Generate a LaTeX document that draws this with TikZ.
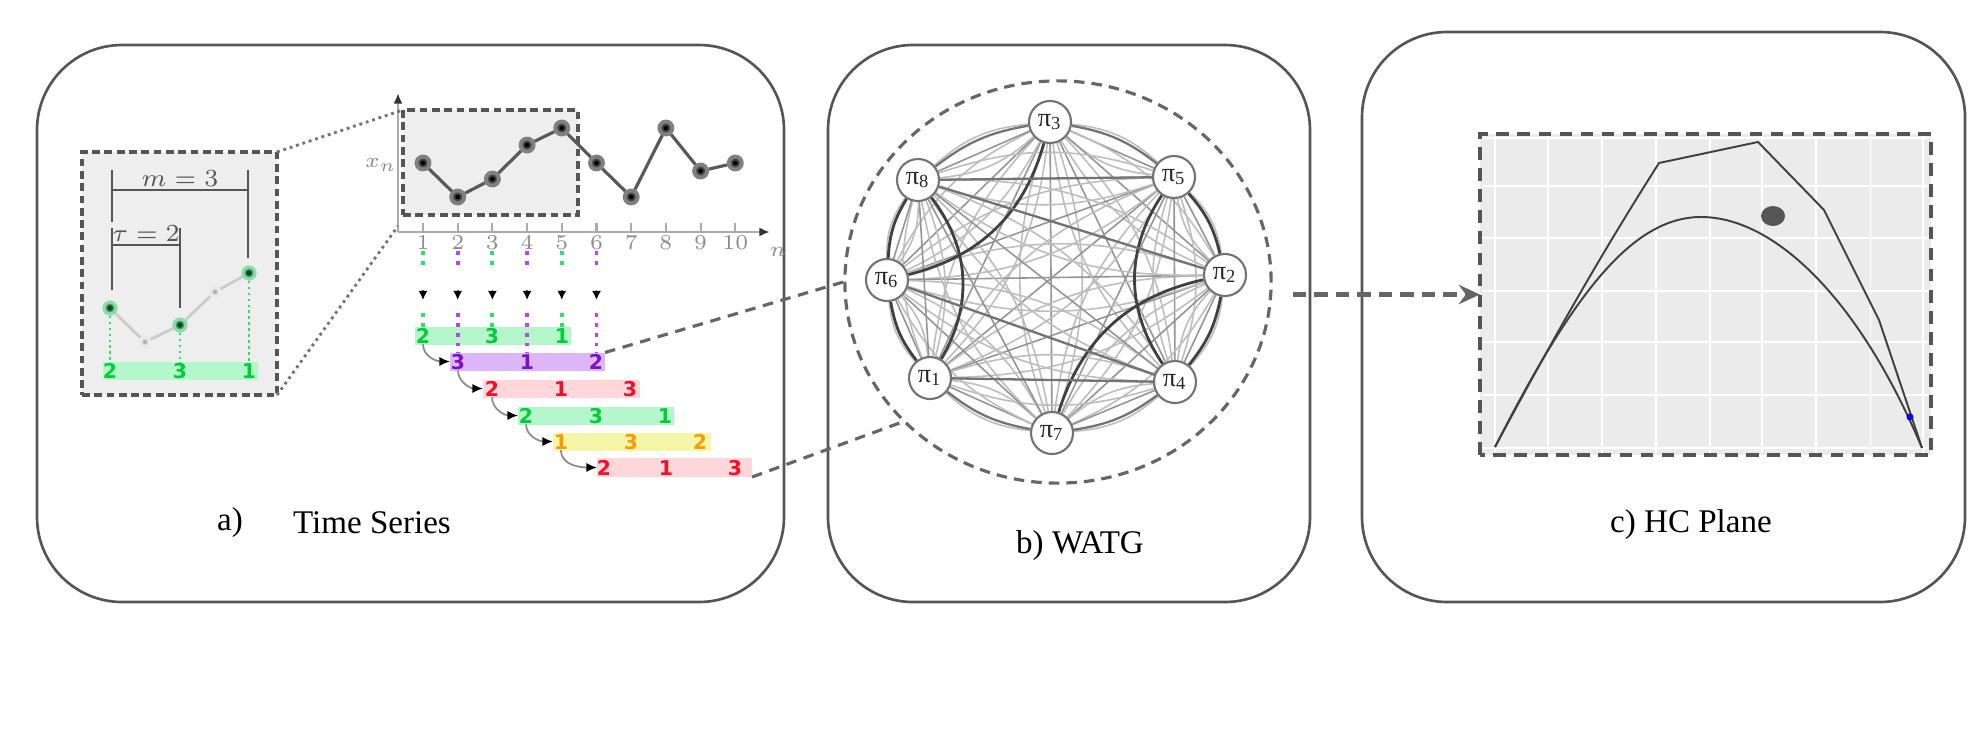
\documentclass[tikz,border=0pt]{standalone}
\usepackage{fontspec}
\setmainfont{Liberation Serif}
\newfontfamily\digfont{DejaVu Sans}
\usetikzlibrary{arrows.meta,shapes.geometric}
\pgfdeclarelayer{bg}
\pgfsetlayers{bg,main}
\definecolor{frame}{HTML}{555555}
\definecolor{boxgray}{HTML}{EEEEEE}
\definecolor{hcgray}{HTML}{EBEBEB}
\definecolor{gfill}{HTML}{B4F7CB}
\definecolor{gtext}{HTML}{00CC3A}
\definecolor{pfill}{HTML}{DDB6F7}
\definecolor{ptext}{HTML}{7B10C8}
\definecolor{rfill}{HTML}{FFD6DA}
\definecolor{rtext}{HTML}{F01028}
\definecolor{yfill}{HTML}{F6F6A8}
\definecolor{ytext}{HTML}{FF9A00}
\definecolor{gdot}{HTML}{33DD66}
\definecolor{pdot}{HTML}{BB44EE}
\definecolor{gpt}{HTML}{22B455}
\definecolor{axisgray}{HTML}{AAAAAA}
\definecolor{dashgray}{HTML}{666666}
\begin{document}
\begin{tikzpicture}[x=0.01cm,y=-0.01cm,
  panel/.style={draw=frame,line width=0.75pt,rounded corners=0.85cm},
  zoombox/.style={draw=frame,fill=boxgray,line width=1.1pt,dash pattern=on 2.2pt off 1.3pt,inner sep=0pt,outer sep=0pt},
  caption/.style={font=\fontsize{9.4}{11}\selectfont,text=black,inner sep=0pt},
  bracket/.style={draw=frame,line width=0.75pt},
  brlabel/.style={font=\fontsize{7}{8}\selectfont,text=frame,inner sep=0pt},
  ipt/.style={circle,fill=gpt,draw=gpt!50,line width=0.9pt,minimum size=0.12cm,inner sep=0pt},
  fpt/.style={circle,fill=black!14,draw=black!8,line width=0.8pt,minimum size=0.1cm,inner sep=0pt},
  tspt/.style={circle,fill=black!72,draw=black!50,line width=1.1pt,minimum size=0.13cm,inner sep=0pt},
  barbox/.style={minimum width=1.56cm,minimum height=0.18cm,inner sep=0pt,outer sep=0pt},
  numlab/.style={font=\digfont\bfseries\fontsize{5.8}{6}\selectfont,inner sep=0pt},
  ticklab/.style={font=\fontsize{6}{7}\selectfont,text=black!45,inner sep=0pt},
  gcol/.style={draw=gdot,line width=1.1pt,dash pattern=on 1.1pt off 1.7pt},
  pcol/.style={draw=pdot,line width=1.1pt,dash pattern=on 1.1pt off 1.7pt},
  colarrow/.style={draw=black!60,line width=0.5pt,-{Latex[length=2.6pt,width=2.6pt,black]}},
  bararrow/.style={draw=black!45,line width=0.5pt,-{Latex[length=3pt,width=2.6pt,black]}},
  linkdash/.style={draw=dashgray,line width=0.9pt,dash pattern=on 3pt off 2.2pt},
  zoomlink/.style={draw=black!55,line width=0.8pt,dash pattern=on 0.8pt off 1.1pt},
  pinode/.style={circle,draw=black!55,fill=white,line width=0.6pt,minimum size=0.42cm,inner sep=0pt,font=\fontsize{7.5}{8}\selectfont,text=black!85},
  e1/.style={draw=black!42,line width=0.45pt},
  e2/.style={draw=black!26,line width=0.45pt},
  edark/.style={draw=black!75,line width=0.8pt},
  emid/.style={draw=black!55,line width=0.65pt},
  hcborder/.style={draw=frame,line width=1.3pt,dash pattern=on 3.6pt off 2.4pt},
  bcarrow/.style={draw=dashgray,line width=1.3pt,dash pattern=on 3.8pt off 2.3pt,-{Stealth[length=6pt,width=5.5pt,inset=2pt]}},
]
\useasboundingbox (0,0) rectangle (1988,730);
\begin{pgfonlayer}{bg}
\fill[white] (0,0) rectangle (1988,730);
\end{pgfonlayer}

% ---------- panels
\draw[panel] (37,45) rectangle (784,602);
\draw[panel] (828,45) rectangle (1310,602);
\draw[panel] (1362,32) rectangle (1965,602);

% ---------- panel a : inset
\node[zoombox,minimum width=1.95cm,minimum height=2.43cm] (inset) at (179.5,273.5) {};
\draw[bracket] (112,170) -- (112,222);
\draw[bracket] (248,170) -- (248,258);
\draw[bracket] (112,190) -- (248,190);
\node[brlabel] (mlab) at (180,179) {$m=3$};
\draw[bracket] (112,228) -- (112,290);
\draw[bracket] (180,228) -- (180,308);
\draw[bracket] (112,245) -- (180,245);
\node[brlabel] (taulab) at (146,234) {$\tau=2$};

\node[barbox,fill=gfill,minimum width=1.55cm] (ibar) at (180.5,371) {};
\node[numlab,text=gtext] (in1) at (110,371) {2};
\node[numlab,text=gtext] (in2) at (180,371) {3};
\node[numlab,text=gtext] (in3) at (249,371) {1};

\node[ipt] (ip1) at (110,308) {};
\node[fpt] (ip2) at (145,342) {};
\node[ipt] (ip3) at (180,325) {};
\node[fpt] (ip4) at (215,292) {};
\node[ipt] (ip5) at (249,273) {};
\draw[black!20,line width=0.8pt] (ip1) -- (ip2) -- (ip3) -- (ip4) -- (ip5);
\foreach \p in {ip1,ip3,ip5} \fill[black!80] (\p) circle (0.8pt);
\foreach \p in {ip2,ip4} \fill[black!30] (\p) circle (0.6pt);
\draw[gcol,line width=0.7pt,dash pattern=on 0.7pt off 1pt] (ip1) -- (in1);
\draw[gcol,line width=0.7pt,dash pattern=on 0.7pt off 1pt] (ip3) -- (in2);
\draw[gcol,line width=0.7pt,dash pattern=on 0.7pt off 1pt] (ip5) -- (in3);

% ---------- panel a : time series
\coordinate (o) at (398,232);
\coordinate (xend) at (770,232);
\coordinate (yend) at (398,93);
\coordinate (hlcorner) at (398,226);
\draw[draw=axisgray,line width=0.6pt,-{Latex[length=3pt,width=2.5pt,black!80]}] (o) -- (xend);
\draw[draw=axisgray,line width=0.6pt,-{Latex[length=3pt,width=2.5pt,black!80]}] (o) -- (yend);
\node[ticklab,font=\fontsize{6.5}{7}\selectfont] (nlab) at (778,252) {$n$};
\node[ticklab,font=\fontsize{6.5}{7}\selectfont] (xlab) at (381,165) {$x_n$};
\foreach \i in {1,...,10} {
  \pgfmathsetmacro{\xx}{388.3+34.7*\i}
  \draw[axisgray,line width=0.6pt] (\xx,223) -- (\xx,232);
  \node[ticklab] (t\i) at (\xx,243) {$\i$};
}
\node[zoombox,minimum width=1.75cm,minimum height=1.05cm] (hl) at (490.5,162.5) {};
\foreach \i/\v in {1/163,2/197,3/179,4/145,5/128,6/163,7/197,8/128,9/171,10/163} {
  \pgfmathsetmacro{\xx}{388.3+34.7*\i}
  \node[tspt] (x\i) at (\xx,\v) {};
}
\draw[black!65,line width=0.9pt] (x1) -- (x2) -- (x3) -- (x4) -- (x5) -- (x6) -- (x7) -- (x8) -- (x9) -- (x10);
\foreach \i in {1,...,10} \fill[black] (x\i) circle (0.7pt);

\draw[zoomlink] (inset.north east) -- (hl.north west);
\draw[zoomlink] (inset.south east) -- (hlcorner);

% bars
\node[barbox,fill=gfill] (bar1) at (493,336) {};
\node[barbox,fill=pfill,minimum width=1.55cm] (bar2) at (527.5,361.5) {};
\node[barbox,fill=rfill,minimum width=1.57cm] (bar3) at (561.5,388.5) {};
\node[barbox,fill=gfill] (bar4) at (596,415.5) {};
\node[barbox,fill=yfill,minimum width=1.58cm] (bar5) at (632,441.5) {};
\node[barbox,fill=rfill,minimum width=1.55cm,minimum height=0.19cm] (bar6) at (674.5,467.5) {};

% column lines
\foreach \i in {1,...,6} {
  \pgfmathsetmacro{\xx}{388.3+34.7*\i}
  \coordinate (ca\i) at (\xx,251);
  \coordinate (cm\i) at (\xx,267);
  \coordinate (cd\i) at (\xx,290);
  \coordinate (cb\i) at (\xx,300);
  \coordinate (cc\i) at (\xx,313);
}
\foreach \i in {1,3,5} {
  \draw[gcol] (ca\i) -- (cm\i);
  \draw[colarrow] (cd\i) -- (cb\i);
  \draw[gcol] (cc\i) -- (cc\i |- bar1.north);
}
\foreach \i in {2,4,6} {
  \draw[pcol] (ca\i) -- (cm\i);
  \draw[colarrow] (cd\i) -- (cb\i);
  \draw[pcol] (cc\i) -- (cc\i |- bar2.north);
}

% bar numbers
\node[numlab,text=gtext] (b1a) at (423,336) {2};
\node[numlab,text=gtext] (b1b) at (492,336) {3};
\node[numlab,text=gtext] (b1c) at (562,336) {1};
\node[numlab,text=ptext] (b2a) at (458,362) {3};
\node[numlab,text=ptext] (b2b) at (527,362) {1};
\node[numlab,text=ptext] (b2c) at (596,362) {2};
\node[numlab,text=rtext] (b3a) at (492,389) {2};
\node[numlab,text=rtext] (b3b) at (561,389) {1};
\node[numlab,text=rtext] (b3c) at (630,389) {3};
\node[numlab,text=gtext] (b4a) at (526,416) {2};
\node[numlab,text=gtext] (b4b) at (596,416) {3};
\node[numlab,text=gtext] (b4c) at (665,416) {1};
\node[numlab,text=ytext] (b5a) at (561,442) {1};
\node[numlab,text=ytext] (b5b) at (631,442) {3};
\node[numlab,text=ytext] (b5c) at (700,442) {2};
\node[numlab,text=rtext] (b6a) at (604,468) {2};
\node[numlab,text=rtext] (b6b) at (666,468) {1};
\node[numlab,text=rtext] (b6c) at (735,468) {3};

\draw[bararrow] (b1a.south) to[out=-90,in=180] (bar2.west);
\draw[bararrow] (b2a.south) to[out=-90,in=180] (bar3.west);
\draw[bararrow] (b3a.south) to[out=-90,in=180] (bar4.west);
\draw[bararrow] (b4a.south) to[out=-90,in=180] (bar5.west);
\draw[bararrow] (b5a.south) to[out=-90,in=180] (bar6.west);

\node[caption] (capa1) at (230,523) {a)};
\node[caption] (capa2) at (372,523) {Time Series};

% ---------- panel b : WATG
\node[ellipse,draw=dashgray,line width=0.9pt,dash pattern=on 3pt off 2pt,minimum width=4.26cm,minimum height=4.02cm,inner sep=0pt] (watg) at (1058,282) {};
\node[pinode] (p3) at (1050,122) {π\textsubscript{3}};
\node[pinode] (p5) at (1174,177) {π\textsubscript{5}};
\node[pinode] (p2) at (1225,275) {π\textsubscript{2}};
\node[pinode] (p4) at (1175,382) {π\textsubscript{4}};
\node[pinode] (p7) at (1052,433) {π\textsubscript{7}};
\node[pinode] (p1) at (930,378) {π\textsubscript{1}};
\node[pinode] (p6) at (887,280) {π\textsubscript{6}};
\node[pinode] (p8) at (918,180) {π\textsubscript{8}};
\begin{pgfonlayer}{bg}
\foreach \a/\b in {3/5,3/2,3/4,3/7,3/1,3/6,3/8,5/2,5/4,5/7,5/1,5/6,5/8,2/4,2/7,2/1,2/6,2/8,4/7,4/1,4/6,4/8,7/1,7/6,7/8,1/6,1/8,6/8} {
  \draw[e1] (p\a) -- (p\b);
  \draw[e2] (p\a) to[bend left=18] (p\b);
  \draw[e2] (p\a) to[bend right=18] (p\b);
}
\draw[edark] (p3) to[bend left=30] (p6);
\draw[edark] (p2) to[bend right=30] (p7);
\draw[edark] (p8) to[bend left=34] (p1);
\draw[edark] (p5) to[bend right=34] (p4);
\draw[edark] (p5) to[bend left=14] (p2);
\draw[edark] (p2) to[bend left=14] (p4);
\draw[edark] (p1) to[bend left=14] (p6);
\draw[edark] (p6) to[bend left=14] (p8);
\draw[emid] (p3) to[bend left=14] (p5);
\draw[emid] (p8) to[bend left=14] (p3);
\draw[emid] (p4) to[bend left=14] (p7);
\draw[emid] (p7) to[bend left=14] (p1);
\draw[emid] (p8) -- (p2);
\draw[emid] (p6) -- (p4);
\draw[emid] (p8) -- (p5);
\draw[emid] (p1) -- (p4);
\end{pgfonlayer}
\node[caption] (capb) at (1080,546) {b) WATG};

% ---------- panel c : HC plane
\node[fill=hcgray,minimum width=4.51cm,minimum height=3.21cm,inner sep=0pt,outer sep=0pt] (hc) at (1705.5,294.5) {};
\foreach \gx/\w in {1495/0.55pt,1548/0.3pt,1602/0.55pt,1656/0.3pt,1710/0.55pt,1762/0.3pt,1816/0.55pt,1870/0.3pt,1923/0.55pt}
  \draw[white,line width=\w] (\gx,136) -- (\gx,453);
\foreach \gy/\w in {138/0.3pt,186/0.3pt,238/0.55pt,291/0.55pt,342/0.55pt,395/0.3pt,448/0.3pt}
  \draw[white,line width=\w] (1482,\gy) -- (1929,\gy);
\draw[hcborder] (hc.south west) rectangle (hc.north east);
\draw[black!75,line width=0.55pt] (1495,447) .. controls (1560,325) and (1610,240) .. (1659,163) -- (1758,142) -- (1824,210) -- (1879,320) -- (1922,448);
\draw[black!75,line width=0.55pt] (1495,447) .. controls (1570,300) and (1630,217) .. (1701,217) .. controls (1775,217) and (1860,300) .. (1922,448);
\fill[frame] (1773,216) ellipse [x radius=12, y radius=10];
\fill[blue] (1910,417) circle (1pt);
\node[caption] (capc) at (1691,525) {c) HC Plane};

% ---------- connectors between panels
\coordinate (bout) at (1293,294.5);
\draw[bcarrow] (bout) -- (hc.west);
\draw[linkdash] (bar2.north east) -- (watg.west);
\draw[linkdash] (bar6.south east) -- (watg.222);
\end{tikzpicture}
\end{document}
